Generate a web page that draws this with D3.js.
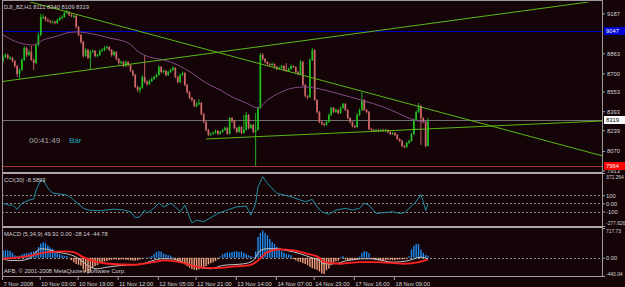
<!DOCTYPE html>
<html>
<head>
<meta charset="utf-8">
<script src="https://cdn.jsdelivr.net/npm/d3@7"></script>
<style>
  html, body { margin: 0; padding: 0; background: #140408; }
  svg { display: block; font-family: "Liberation Sans", Arial, sans-serif; }
</style>
</head>
<body>
<svg id="chart" width="625" height="287"></svg>
<script>
// DJI_8Z H1 bars, 7 Nov 2008 .. 18 Nov 2008
const opens = [
  8800,8833,8849,8825,8825,8801,8760,8695,8728,8809,
  8906,8849,8874,8809,8784,8930,9011,9157,9157,9133,
  9125,9117,9117,9109,9133,9149,9157,9190,9198,9174,
  9166,9166,9076,9011,8955,8841,8890,8825,8874,8882,
  8841,8849,8882,8890,8906,8914,8890,8849,8874,8817,
  8784,8793,8760,8793,8768,8720,8687,8590,8566,8582,
  8671,8630,8614,8638,8655,8671,8687,8752,8711,8720,
  8687,8711,8728,8744,8671,8630,8687,8703,8606,8549,
  8501,8484,8436,8452,8460,8371,8306,8241,8201,8209,
  8217,8233,8209,8225,8241,8257,8209,8338,8314,8257,
  8225,8265,8217,8241,8363,8257,8282,8225,8241,8420,
  8849,8817,8793,8776,8768,8776,8752,8736,8744,8760,
  8728,8720,8736,8760,8752,8711,8695,8793,8606,8517,
  8509,8809,8890,8484,8387,8306,8290,8282,8306,8363,
  8420,8387,8403,8379,8420,8452,8403,8338,8306,8274,
  8265,8363,8403,8484,8403,8387,8249,8241,8233,8241,
  8233,8241,8233,8241,8225,8209,8217,8201,8168,8152,
  8111,8103,8136,8152,8209,8322,8387,8436,8338,8306,
  8111
];
const highs = [
  8850,8865,8860,8840,8835,8810,8770,8740,8820,8922,
  8915,8890,8922,8820,8945,9030,9182,9182,9165,9145,
  9135,9130,9128,9145,9160,9170,9200,9214,9205,9185,
  9180,9175,9085,9020,8965,8905,8900,8890,8895,8890,
  8860,8895,8905,8922,8925,8920,8898,8885,8880,8825,
  8805,8800,8805,8800,8775,8730,8695,8600,8595,8685,
  8849,8645,8650,8668,8682,8700,8765,8760,8732,8728,
  8722,8740,8760,8750,8680,8698,8716,8710,8615,8558,
  8510,8492,8470,8490,8468,8380,8315,8250,8220,8228,
  8245,8240,8235,8252,8270,8265,8346,8345,8320,8265,
  8278,8272,8363,8387,8370,8292,8290,8379,8430,8865,
  8865,8825,8800,8785,8790,8782,8760,8755,8770,8768,
  8784,8748,8772,8768,8758,8720,8809,8800,8612,8525,
  8820,8906,8895,8490,8395,8315,8300,8318,8375,8430,
  8428,8415,8410,8432,8462,8460,8410,8345,8312,8282,
  8375,8415,8549,8492,8412,8395,8258,8250,8250,8250,
  8250,8250,8250,8248,8232,8225,8225,8208,8175,8160,
  8120,8145,8162,8220,8335,8398,8460,8445,8345,8312,
  8340
];
const lows = [
  8790,8825,8815,8810,8790,8745,8671,8655,8720,8800,
  8835,8840,8800,8728,8775,8920,9000,9140,9120,9115,
  9105,9105,9098,9100,9125,9140,9150,9182,9165,9155,
  9150,9065,9000,8940,8830,8835,8815,8728,8865,8830,
  8830,8840,8875,8880,8895,8880,8835,8840,8805,8770,
  8775,8750,8752,8755,8710,8675,8580,8550,8541,8575,
  8620,8600,8605,8630,8648,8662,8680,8700,8700,8675,
  8680,8702,8720,8660,8618,8622,8680,8595,8535,8490,
  8470,8425,8425,8440,8360,8295,8230,8190,8192,8200,
  8210,8200,8200,8218,8235,8200,8205,8300,8245,8215,
  8218,8205,8210,8235,8245,8250,8215,7950,8235,8410,
  8805,8780,8765,8755,8760,8740,8725,8728,8738,8718,
  8710,8712,8730,8742,8700,8685,8690,8595,8505,8492,
  8500,8800,8475,8375,8295,8280,8270,8275,8300,8355,
  8378,8380,8368,8372,8412,8395,8328,8295,8262,8255,
  8258,8355,8395,8395,8375,8240,8232,8225,8225,8225,
  8225,8225,8225,8215,8200,8200,8192,8158,8142,8100,
  8092,8095,8128,8145,8200,8315,8380,8120,8295,8100,
  8109
];
const closes = [
  8833,8849,8825,8825,8801,8760,8695,8728,8809,8906,
  8849,8874,8809,8784,8930,9011,9157,9157,9133,9125,
  9117,9117,9109,9133,9149,9157,9190,9198,9174,9166,
  9166,9076,9011,8955,8841,8890,8825,8874,8882,8841,
  8849,8882,8890,8906,8914,8890,8849,8874,8817,8784,
  8793,8760,8793,8768,8720,8687,8590,8566,8582,8671,
  8630,8614,8638,8655,8671,8687,8752,8711,8720,8687,
  8711,8728,8744,8671,8630,8687,8703,8606,8549,8501,
  8484,8436,8452,8460,8371,8306,8241,8201,8209,8217,
  8233,8209,8225,8241,8257,8209,8338,8314,8257,8225,
  8265,8217,8241,8363,8257,8282,8225,8241,8420,8849,
  8817,8793,8776,8768,8776,8752,8736,8744,8760,8728,
  8720,8736,8760,8752,8711,8695,8793,8606,8517,8509,
  8809,8890,8484,8387,8306,8290,8282,8306,8363,8420,
  8387,8403,8379,8420,8452,8403,8338,8306,8274,8265,
  8363,8403,8484,8403,8387,8249,8241,8233,8241,8233,
  8241,8233,8241,8225,8209,8217,8201,8168,8152,8111,
  8103,8136,8152,8209,8322,8387,8436,8338,8306,8111,
  8319
];

// moving average (purple) sampled along the curve
const maIdx = [0,7,13,17,23,27,31,38,45,53,58,62,68,74,80,86,92,97,103,108,112,117,123,128,134,141,147,153,161,168,174,180];
const maVal = [9012,8947,8930,8971,9003,9028,9036,9020,8987,8947,8866,8833,8809,8768,8703,8622,8565,8509,8460,8420,8484,8541,8582,8590,8574,8541,8509,8476,8428,8371,8322,8306];

// hand-drawn objects: trendlines [bar, price] -> [bar, price], horizontal levels
const trendStart = [[11, 9282], [-1, 8632], [86, 8168]];
const trendEnd   = [[254, 8030], [248, 9279], [254, 8314]];
const levelVals   = [9044, 8319, 7951];
const levelLabels = ["9047", "8319", "7964"];

// CCI(30)
const cciIdx = [0,2,4,6,8,11,13,14,16,17,19,21,27,29,34,36,41,47,51,54,56,58,60,61,64,66,68,71,73,75,77,80,82,85,91,95,99,103,105,107,108,110,112,116,122,124,128,131,133,135,138,141,145,148,151,153,155,158,161,165,168,170,172,175,177,178,179,180];
const cciVal = [0,-21,-21,-74,0,40,53,163,286,286,188,126,102,65,-58,-82,-91,-70,-82,-103,-177,-164,-82,-119,-58,4,-42,0,-42,-103,-21,-238,-205,-226,-123,-82,-42,-33,-144,0,204,326,245,123,81,61,20,49,-42,-103,-135,-82,-61,-82,-61,0,-21,-123,-115,-103,-123,-115,-61,20,110,20,-91,-8.59];

// MACD (5,34,9): histogram per bar, main and signal lines sampled
const macdHist = [
  170,180,175,160,120,60,40,50,80,100,
  110,120,140,150,170,260,340,375,350,300,
  250,220,160,140,90,60,50,40,10,-60,
  -110,-150,-170,-190,-280,-350,-380,-330,-250,-200,
  -180,-120,-100,-90,-80,-60,-50,-40,-40,-50,
  -40,-40,-50,-50,-60,-70,-70,-60,-40,-20,
  10,-10,20,40,90,140,160,150,100,80,
  60,50,20,-40,-80,-110,-130,-160,-200,-240,
  -270,-290,-300,-280,-260,-240,-200,-160,-130,-110,
  -80,-40,30,80,110,130,120,140,150,160,
  140,150,120,90,60,40,20,150,500,600,
  660,600,540,450,380,330,260,210,170,120,
  90,80,60,-30,-60,-90,-100,-130,-150,-180,
  -220,-250,-270,-290,-330,-380,-390,-300,-260,-180,
  -120,-90,-70,20,40,-40,-60,-70,-60,-50,
  -40,30,120,160,150,110,-20,-40,-50,-60,
  -60,-70,-60,-50,-50,-60,-60,-50,-40,-40,
  -30,-20,40,200,290,340,330,200,120,70,
  49.91
];
const macdIdx = [0,3,7,11,14,16,19,23,27,31,34,37,40,44,50,59,67,71,78,83,88,93,102,106,109,112,116,120,126,130,134,136,140,146,153,156,165,172,177,180];
const macdVal = [-24,-65,-65,-24,135,217,200,135,96,14,-106,-227,-265,-227,-186,-145,-24,-24,-145,-227,-265,-186,-145,-65,176,217,217,176,96,14,-65,-145,-145,-65,-24,-24,-106,-65,14,-28.14];
const sigIdx = [0,7,13,19,26,30,34,40,45,55,62,69,75,83,89,98,105,108,112,117,123,129,134,136,143,151,158,170,176,180];
const sigVal = [-24,7,72,135,152,135,14,-106,-145,-169,-121,-65,-106,-227,-251,-210,-169,-65,135,200,176,96,0,-106,-145,-106,-106,-145,-106,-44.78];

// axis labels
const priceTicks = [9187, 8863, 8700, 8553, 8393, 8239, 8070, 7913];
const cciTicks = [372.264, 100, 0, -100, -277.626];
const cciTickText = ["372.264", "100", "0.00", "-100", "-277.626"];
const macdTicks = [717.73, 0, -440.04];
const macdTickText = ["717.73", "0.00", "-440.04"];
const timeIdx = [0, 16, 32, 49, 66, 82, 99, 116, 132, 149, 166];
const timeLabels = ["7 Nov 2008","10 Nov 03:00","10 Nov 19:00","11 Nov 12:00","12 Nov 05:00","12 Nov 21:00","13 Nov 14:00","14 Nov 07:00","14 Nov 23:00","17 Nov 16:00","18 Nov 09:00"];

const W = 625, H = 287;
const L = 2, R = 602;
const svg = d3.select("#chart");

svg.append("rect").attr("width", W).attr("height", H).attr("fill", "#140408");

const x = d3.scaleLinear().domain([0, 180]).range([3, 428]);
const yP = d3.scaleLinear().domain([7900, 9279]).range([172, 2]);
const yC = d3.scaleLinear().domain([-277.626, 372.264]).range([226, 173]);
const yM = d3.scaleLinear().domain([-440.04, 717.73]).range([276, 228]);

const defs = svg.append("defs");
[["clipMain", 2, 172], ["clipCci", 174, 226], ["clipMacd", 228, 276]].forEach(([id, t, b]) => {
  defs.append("clipPath").attr("id", id)
    .append("rect").attr("x", L + 1).attr("y", t).attr("width", R - L - 1).attr("height", b - t);
});

const bull = "#20c020", bear = "#cf6868";
const idx = d3.range(closes.length);

// ---- main panel
const main = svg.append("g").attr("clip-path", "url(#clipMain)");

// horizontal levels
const levelColors = ["#0000c8", "#6e6e6e", "#a83232"];
main.selectAll(".level").data(levelVals).enter().append("line")
  .attr("x1", L).attr("x2", R)
  .attr("y1", d => Math.round(yP(d)) + 0.5).attr("y2", d => Math.round(yP(d)) + 0.5)
  .attr("stroke", (d, i) => levelColors[i]).attr("stroke-width", 1);

// candles
main.selectAll(".wick").data(idx).enter().append("line")
  .attr("x1", i => x(i)).attr("x2", i => x(i))
  .attr("y1", i => yP(highs[i])).attr("y2", i => yP(lows[i]))
  .attr("stroke", i => closes[i] >= opens[i] ? bull : bear)
  .attr("stroke-width", 0.9);
main.selectAll(".body").data(idx).enter().append("rect")
  .attr("x", i => x(i) - 0.85).attr("width", 1.7)
  .attr("y", i => yP(Math.max(opens[i], closes[i])))
  .attr("height", i => Math.max(1, Math.abs(yP(opens[i]) - yP(closes[i]))))
  .attr("fill", i => closes[i] >= opens[i] ? bull : bear);

// moving average
main.append("path")
  .datum(d3.zip(maIdx, maVal))
  .attr("d", d3.line().x(d => x(d[0])).y(d => yP(d[1])).curve(d3.curveMonotoneX))
  .attr("fill", "none").attr("stroke", "#844a86").attr("stroke-width", 1);

// trendlines
main.selectAll(".trend").data(d3.zip(trendStart, trendEnd)).enter().append("line")
  .attr("x1", d => x(d[0][0])).attr("y1", d => yP(d[0][1]))
  .attr("x2", d => x(d[1][0])).attr("y2", d => yP(d[1][1]))
  .attr("stroke", "#5cb814").attr("stroke-width", 1);

// ---- CCI panel
const cci = svg.append("g").attr("clip-path", "url(#clipCci)");
cci.selectAll(".cciLevel").data([100, 0, -100]).enter().append("line")
  .attr("x1", L).attr("x2", R)
  .attr("y1", d => Math.round(yC(d)) + 0.5).attr("y2", d => Math.round(yC(d)) + 0.5)
  .attr("stroke", "#8a8a8a").attr("stroke-width", 1).attr("stroke-dasharray", "2,2");
cci.append("path")
  .datum(d3.zip(cciIdx, cciVal))
  .attr("d", d3.line().x(d => x(d[0])).y(d => yC(d[1])))
  .attr("fill", "none").attr("stroke", "#1f8fa4").attr("stroke-width", 1);

// ---- MACD panel
const macd = svg.append("g").attr("clip-path", "url(#clipMacd)");
macd.append("line")
  .attr("x1", L).attr("x2", R)
  .attr("y1", Math.round(yM(0)) + 0.5).attr("y2", Math.round(yM(0)) + 0.5)
  .attr("stroke", "#8a8a8a").attr("stroke-dasharray", "2,2");
macd.selectAll(".hist").data(idx).enter().append("rect")
  .attr("x", i => x(i) - 0.7).attr("width", 1.4)
  .attr("y", i => Math.min(yM(0), yM(macdHist[i])))
  .attr("height", i => Math.abs(yM(macdHist[i]) - yM(0)))
  .attr("fill", i => macdHist[i] >= 0 ? "#1e8cf0" : "#f0a07c");
macd.append("path")
  .datum(d3.zip(macdIdx, macdVal))
  .attr("d", d3.line().x(d => x(d[0])).y(d => yM(d[1])).curve(d3.curveMonotoneX))
  .attr("fill", "none").attr("stroke", "#c8c8c8").attr("stroke-width", 1);
macd.append("path")
  .datum(d3.zip(sigIdx, sigVal))
  .attr("d", d3.line().x(d => x(d[0])).y(d => yM(d[1])).curve(d3.curveMonotoneX))
  .attr("fill", "none").attr("stroke", "#ff2020").attr("stroke-width", 1.8);

// ---- frames and separators
const frame = svg.append("g").attr("fill", "#9a9a9a");
frame.append("rect").attr("x", L).attr("y", 0).attr("width", R - L).attr("height", 1);
frame.append("rect").attr("x", L).attr("y", 0).attr("width", 1).attr("height", 277);
frame.append("rect").attr("x", R).attr("y", 0).attr("width", 1).attr("height", 277);
frame.append("rect").attr("x", L).attr("y", 172).attr("width", R - L).attr("height", 2).attr("fill", "#a8a8a8");
frame.append("rect").attr("x", L).attr("y", 226).attr("width", R - L).attr("height", 2).attr("fill", "#a8a8a8");
frame.append("rect").attr("x", L).attr("y", 276).attr("width", R - L + 1).attr("height", 1);

// ---- axes
function styleAxis(g) {
  g.select(".domain").remove();
  g.selectAll("line").attr("stroke", "#a0a0a0");
  g.selectAll("text").attr("fill", "#d4d4d4").style("font-size", "5.8px")
    .style("font-family", "'Liberation Sans', Arial, sans-serif");
}
// long scale labels get a slightly tighter font so they fit inside 625px
function fitLong(g) {
  g.selectAll(".tick text").each(function () {
    const t = d3.select(this);
    if (t.text().length > 5) t.style("font-size", "4.9px");
  });
}

svg.append("g").attr("transform", `translate(${R},0)`)
  .call(d3.axisRight(yP).tickValues(priceTicks).tickSize(3).tickPadding(2).tickFormat(d3.format("d")))
  .call(styleAxis);

svg.append("g").attr("transform", `translate(${R},0)`)
  .call(d3.axisRight(yC).tickValues(cciTicks).tickSize(3).tickPadding(1)
    .tickFormat((d, i) => cciTickText[i]))
  .call(styleAxis)
  .call(fitLong)
  .call(g => g.selectAll(".tick text").attr("dy", (d, i) => i === 0 ? "1.05em" : i === cciTicks.length - 1 ? "-0.4em" : "0.32em"));

svg.append("g").attr("transform", `translate(${R},0)`)
  .call(d3.axisRight(yM).tickValues(macdTicks).tickSize(3).tickPadding(1)
    .tickFormat((d, i) => macdTickText[i]))
  .call(styleAxis)
  .call(fitLong)
  .call(g => g.selectAll(".tick text").attr("dy", (d, i) => i === 0 ? "0.95em" : i === macdTicks.length - 1 ? "-0.2em" : "0.32em"));

svg.append("g").attr("transform", "translate(-1,277)")
  .call(d3.axisBottom(x).tickValues(timeIdx).tickSize(3).tickPadding(2)
    .tickFormat((d, i) => timeLabels[i]))
  .call(styleAxis)
  .call(g => g.selectAll(".tick text").attr("text-anchor", "start").attr("dx", 1));

// highlighted level labels on the price scale
const levelFill = ["#0000d0", "#ffffff", "#ff0000"];
const levelText = ["#ffffff", "#000000", "#ffffff"];
const tags = svg.append("g");
levelVals.forEach((v, i) => {
  const yy = Math.round(yP(v));
  tags.append("rect").attr("x", R + 2).attr("y", yy - 4).attr("width", 21).attr("height", 8)
    .attr("fill", levelFill[i]);
  tags.append("text").attr("x", R + 4).attr("y", yy + 2.2)
    .attr("fill", levelText[i]).style("font-size", "5.8px").text(levelLabels[i]);
});

// ---- texts
const txt = svg.append("g").attr("fill", "#d0d0d0").style("font-size", "5.8px");
txt.append("text").attr("x", 4).attr("y", 9).text("DJI_8Z,H1  8111 8340 8109 8319");
txt.append("text").attr("x", 4).attr("y", 182).text("CCI(30) -8.5893");
txt.append("text").attr("x", 4).attr("y", 236).text("MACD  (5,34,9) 49.91 0.00 -28.14 -44.78");
txt.append("text").attr("x", 4).attr("y", 273).text("AFB, © 2001-2008 MetaQuotes Software Corp.");
svg.append("text").attr("x", 29).attr("y", 142.5).attr("fill", "#a8a8a8")
  .style("font-size", "8px").text("00:41:49");
svg.append("text").attr("x", 69).attr("y", 142.5).attr("fill", "#1aa6b8")
  .style("font-size", "8px").text("Bar");
</script>
</body>
</html>
